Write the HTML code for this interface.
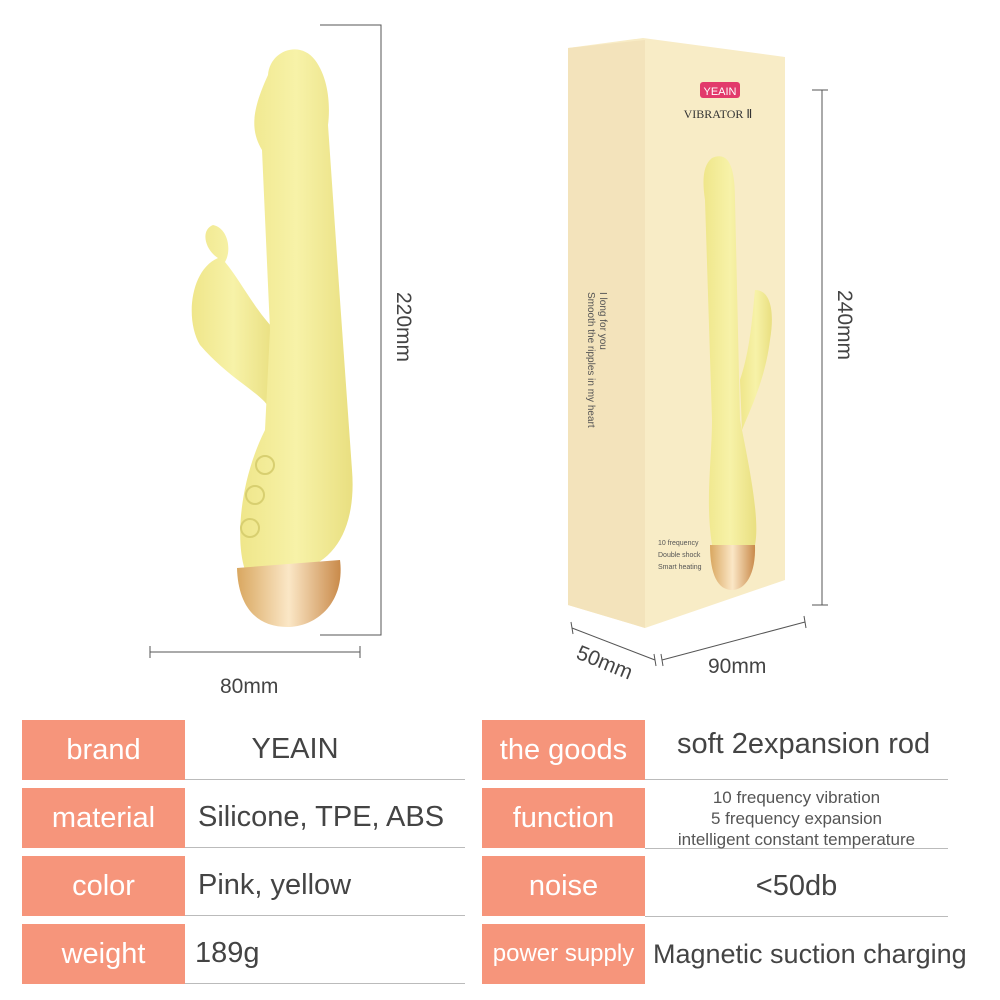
<!DOCTYPE html>
<html><head><meta charset="utf-8"><style>
body{margin:0;width:1000px;height:1000px;background:#fff;position:relative;overflow:hidden;font-family:"Liberation Sans",sans-serif;color:#444}
.a{position:absolute}
.lab{position:absolute;background:#f6957b;color:#fff;font-size:29px;display:flex;align-items:center;justify-content:center;height:60px}
.val{position:absolute;font-size:29px;color:#444;height:60px;display:flex;align-items:center;border-bottom:1.5px solid #bbb}
</style></head><body>
<svg class="a" style="left:0;top:0" width="1000" height="700">
<defs>
<linearGradient id="y" x1="0" x2="1"><stop offset="0" stop-color="#efe68a"/><stop offset=".5" stop-color="#f7f2a8"/><stop offset="1" stop-color="#e9df80"/></linearGradient>
<linearGradient id="g" x1="0" x2="1"><stop offset="0" stop-color="#d9a760"/><stop offset=".5" stop-color="#fbe7c6"/><stop offset="1" stop-color="#c98a4a"/></linearGradient>
</defs>
<path d="M213 225 C200 230 205 250 218 258 C190 270 185 320 200 345 C230 380 265 395 270 410 L275 330 C255 310 240 280 225 262 C232 250 228 228 213 225Z" fill="url(#y)"/>
<path d="M268 75 C270 50 300 40 315 60 C330 80 330 110 328 125 L340 300 L352 470 C356 520 340 560 300 570 L245 570 C235 540 240 480 265 430 L270 330 L262 150 C250 130 252 110 268 75Z" fill="url(#y)"/>
<path d="M237 568 L340 560 C345 600 320 625 290 627 C255 628 238 605 237 568Z" fill="url(#g)"/>
<circle cx="265" cy="465" r="9" fill="none" stroke="#d8cf70" stroke-width="2"/>
<circle cx="255" cy="495" r="9" fill="none" stroke="#d8cf70" stroke-width="2"/>
<circle cx="250" cy="528" r="9" fill="none" stroke="#d8cf70" stroke-width="2"/>
<g stroke="#555" stroke-width="1" fill="none">
<path d="M320 25 H381 V635 H320"/>
<path d="M150 646 V658 M150 652 H360 M360 646 V658"/>
<path d="M822 90 V605 M812 90 H828 M812 605 H828"/>
<path d="M572 628 L655 660 M571 622 L573 634 M654 654 L656 666"/>
<path d="M662 660 L805 622 M661 654 L663 666 M804 616 L806 628"/>
</g>
<polygon points="568,48 643,38 785,57 785,580 645,628 568,605" fill="#f8ecc6"/>
<polygon points="568,48 645,40 645,628 568,605" fill="#f3e3bb"/>
<rect x="700" y="82" width="40" height="16" rx="3" fill="#e23a6b"/>
<text x="720" y="95" font-size="11" fill="#fff" text-anchor="middle">YEAIN</text>
<text x="718" y="118" font-size="12" font-family="Liberation Serif" fill="#333" text-anchor="middle">VIBRATOR Ⅱ</text>
<path d="M712 158 C730 150 735 170 735 200 L740 420 C750 470 760 520 755 545 L712 545 C705 500 712 460 712 420 L705 200 C702 180 703 165 712 158Z" fill="url(#y)"/>
<path d="M755 290 C770 290 775 310 770 340 C765 380 750 410 742 430 L740 380 C750 350 752 320 755 290Z" fill="url(#y)"/>
<path d="M710 545 L755 545 C756 575 745 590 732 590 C718 590 710 575 710 545Z" fill="url(#g)"/>
<text font-size="10" fill="#555" transform="translate(600,292) rotate(90)">I long for you</text>
<text font-size="10" fill="#555" transform="translate(588,292) rotate(90)">Smooth the ripples in my heart</text>
<text x="658" y="545" font-size="7" fill="#555">10 frequency</text>
<text x="658" y="557" font-size="7" fill="#555">Double shock</text>
<text x="658" y="569" font-size="7" fill="#555">Smart heating</text>
<text font-size="21" fill="#444" transform="translate(397,292) rotate(90)">220mm</text>
<text font-size="21" fill="#444" transform="translate(838,290) rotate(90)">240mm</text>
<text x="220" y="693" font-size="21" fill="#444">80mm</text>
<text x="708" y="673" font-size="21" fill="#444">90mm</text>
<text font-size="21" fill="#444" transform="translate(575,658) rotate(22)">50mm</text>
</svg>

<div class="lab" style="left:22px;top:720px;width:163px">brand</div>
<div class="val" style="left:185px;top:720px;width:280px;justify-content:center;padding-right:60px;box-sizing:border-box">YEAIN</div>
<div class="lab" style="left:22px;top:788px;width:163px">material</div>
<div class="val" style="left:185px;top:788px;width:280px;padding-left:13px;box-sizing:border-box">Silicone, TPE, ABS</div>
<div class="lab" style="left:22px;top:856px;width:163px">color</div>
<div class="val" style="left:185px;top:856px;width:280px;padding-left:13px;box-sizing:border-box">Pink, yellow</div>
<div class="lab" style="left:22px;top:924px;width:163px">weight</div>
<div class="val" style="left:185px;top:924px;width:280px;padding-left:10px;box-sizing:border-box">189g</div>

<div class="lab" style="left:482px;top:720px;width:163px">the goods</div>
<div class="val" style="left:645px;top:720px;width:303px;padding-left:32px;align-items:flex-start;padding-top:8px;box-sizing:border-box;height:60px">soft 2expansion rod</div>
<div class="lab" style="left:482px;top:788px;width:163px">function</div>
<div class="val" style="left:645px;top:788px;width:303px;font-size:17px;flex-direction:column;justify-content:center;text-align:center;line-height:21px;color:#555">10 frequency vibration<br>5 frequency expansion<br>intelligent constant temperature</div>
<div class="lab" style="left:482px;top:856px;width:163px">noise</div>
<div class="val" style="left:645px;top:856px;width:303px;justify-content:center">&lt;50db</div>
<div class="lab" style="left:482px;top:924px;width:163px;font-size:24px">power supply</div>
<div class="val" style="left:645px;top:924px;width:340px;font-size:27px;padding-left:8px;box-sizing:border-box;border-bottom:none">Magnetic suction charging</div>
</body></html>
